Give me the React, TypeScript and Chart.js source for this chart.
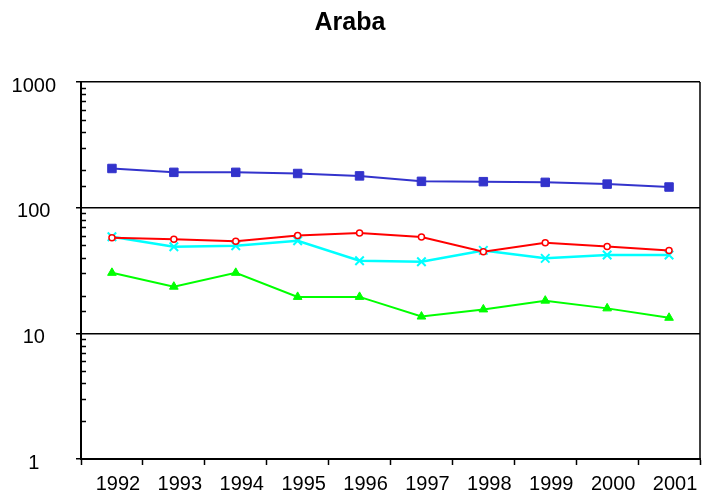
import React, { useEffect, useRef } from "react";
import { Chart, registerables } from "chart.js";

Chart.register(...registerables);

const TITLE = "Araba";
const YEARS = ["1992", "1993", "1994", "1995", "1996", "1997", "1998", "1999", "2000", "2001"];
const BLUE_SERIES = [205, 191, 191, 187, 179, 162, 161, 159, 154, 146];
const RED_SERIES = [57.6, 56, 54, 60, 62.8, 58.4, 44.6, 52.6, 49, 45.7];
const CYAN_SERIES = [58.7, 48.9, 49.8, 54.5, 37.8, 37.1, 45.7, 39.5, 42, 42];
const GREEN_SERIES = [30.3, 23.5, 30.3, 19.5, 19.5, 13.6, 15.5, 18.2, 15.8, 13.3];
const Y_MIN = 1;
const Y_MAX = 1000;

const isDecade = (v: number) => {
  const l = Math.log10(v);
  return Math.abs(l - Math.round(l)) < 1e-9;
};

const framePlugin = {
  id: "frame",
  afterDraw(chart: any) {
    const { ctx, chartArea } = chart;
    const y = chart.scales.y;
    ctx.save();
    ctx.strokeStyle = "#000";
    // minor ticks inside the plot on the y axis
    ctx.lineWidth = 1.5;
    y.ticks.forEach((t: any) => {
      if (!isDecade(t.value)) {
        const py = Math.round(y.getPixelForValue(t.value)) + 0.5;
        ctx.beginPath();
        ctx.moveTo(chartArea.left, py);
        ctx.lineTo(chartArea.left + 5, py);
        ctx.stroke();
      }
    });
    // right border
    ctx.lineWidth = 1.5;
    ctx.beginPath();
    ctx.moveTo(chartArea.right, chartArea.top);
    ctx.lineTo(chartArea.right, chartArea.bottom);
    ctx.stroke();
    ctx.restore();
  },
};

export default function App() {
  const ref = useRef<HTMLCanvasElement | null>(null);

  useEffect(() => {
    if (!ref.current) return;
    const font = "'Liberation Sans', Arial, sans-serif";
    const chart = new Chart(ref.current, {
      type: "line",
      data: {
        labels: YEARS,
        datasets: [
          {
            label: "A",
            data: BLUE_SERIES,
            borderColor: "#3333CC",
            backgroundColor: "#3333CC",
            borderWidth: 2,
            pointStyle: "rect",
            pointRadius: 6,
            pointBorderWidth: 1,
          },
          {
            label: "B",
            data: RED_SERIES,
            borderColor: "#FF0000",
            backgroundColor: "#FFFFFF",
            borderWidth: 2,
            pointStyle: "circle",
            pointRadius: 3,
            pointBorderWidth: 1.5,
          },
          {
            label: "C",
            data: CYAN_SERIES,
            borderColor: "#00FFFF",
            backgroundColor: "#00FFFF",
            borderWidth: 2.5,
            pointStyle: "crossRot",
            pointRadius: 6,
            pointBorderWidth: 2,
          },
          {
            label: "D",
            data: GREEN_SERIES,
            borderColor: "#00FF00",
            backgroundColor: "#00FF00",
            borderWidth: 2,
            pointStyle: "triangle",
            pointRadius: 5,
            pointBorderWidth: 1,
          },
        ],
      },
      options: {
        animation: false,
        responsive: false,
        layout: { autoPadding: false, padding: { left: 0, right: 3, top: 0, bottom: 0 } },
        plugins: {
          legend: { display: false },
          tooltip: { enabled: false },
          title: {
            display: true,
            text: TITLE,
            color: "#000",
            font: { family: font, size: 25, weight: "bold", lineHeight: 1.2 },
            padding: { top: 8, bottom: 44 },
          },
        },
        scales: {
          x: {
            type: "category",
            offset: true,
            grid: {
              offset: true,
              drawOnChartArea: false,
              drawTicks: true,
              tickLength: 6,
              tickColor: "#000",
              tickWidth: 1.5,
            },
            border: { display: true, color: "#000", width: 2 },
            ticks: {
              color: "#000",
              font: { family: font, size: 20 },
              padding: 7,
              labelOffset: 6,
              maxRotation: 0,
              autoSkip: false,
            },
            afterFit: (s: any) => {
              s.height = 37;
              s.paddingLeft = 0;
              s.paddingRight = 0;
            },
          },
          y: {
            type: "logarithmic",
            min: Y_MIN,
            max: Y_MAX,
            grid: {
              color: (c: any) => (c.tick && isDecade(c.tick.value) ? "#000" : "rgba(0,0,0,0)"),
              tickColor: (c: any) => (c.tick && isDecade(c.tick.value) ? "#000" : "rgba(0,0,0,0)"),
              lineWidth: 1.5,
              tickLength: 5,
            },
            border: { display: true, color: "#000", width: 2 },
            ticks: {
              color: "#000",
              font: { family: font, size: 20 },
              autoSkip: false,
              crossAlign: "center",
              padding: 20,
              labelOffset: 4,
              callback: (v: any) => (isDecade(Number(v)) ? String(Math.round(Number(v))) : ""),
            },
            afterFit: (s: any) => {
              s.width = 81;
              s.paddingTop = 0;
              s.paddingBottom = 0;
            },
          },
        },
      },
      plugins: [framePlugin],
    } as any);
    return () => chart.destroy();
  }, []);

  return (
    <div style={{ position: "fixed", left: 0, top: 0, width: 703, height: 496, background: "#fff" }}>
      <canvas ref={ref} width={703} height={496} />
    </div>
  );
}
